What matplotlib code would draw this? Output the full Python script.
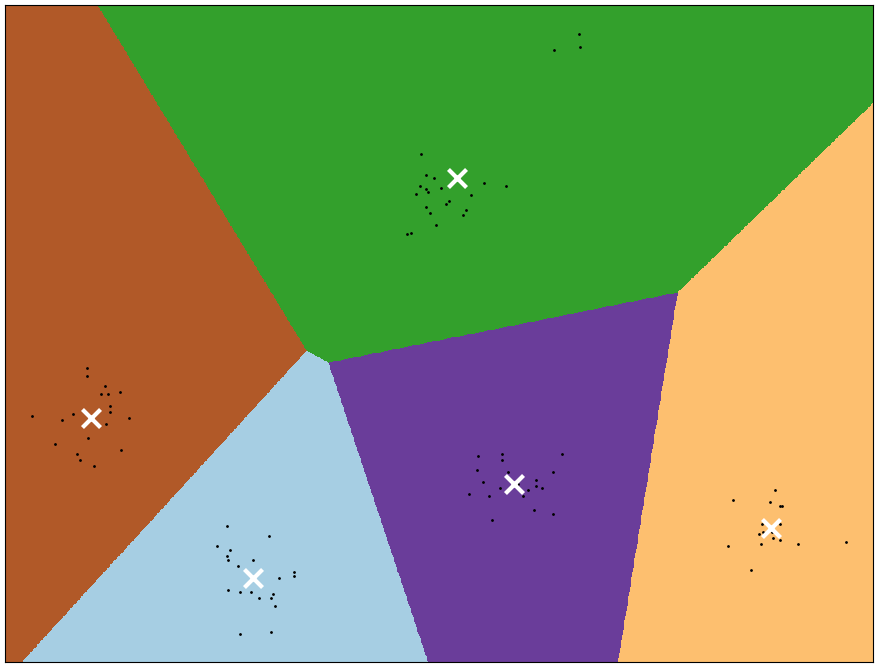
import numpy as np
import matplotlib
matplotlib.use("Agg")
import matplotlib.pyplot as plt

# cluster centres, in label order (0..4) so the Paired colormap picks the colours
centroids_x = [-4.83, 0.48, 8.64, 1.96, -9.04]
centroids_y = [-6.10, 3.88, -4.87, -3.75, -2.10]

# reduced data points
points_x = [
    # green
    -0.46, -0.33, -0.12, -0.49, -0.33, -0.28, -0.59, 0.06, 1.18, 1.73,
    0.84, 0.27, 0.19, -0.35, 0.69, 0.63, -0.23, -0.09, -0.82, -0.72,
    3.65, 3.67, 3.00,
    # brown
    -9.14, -9.14, -8.67, -8.78, -8.60, -8.29, -8.55, -8.55, -10.58, -9.80,
    -9.51, -8.05, -8.65, -9.12, -9.97, -8.26, -9.40, -9.33, -8.96,
    # light blue
    -5.50, -4.41, -5.76, -5.43, -5.50, -5.48, -4.83, -5.22, -4.15, -3.76,
    -3.76, -5.48, -5.17, -4.88, -4.31, -4.67, -4.36, -4.25, -5.17, -4.36,
    # purple
    1.02, 1.64, 1.64, 3.20, 1.00, 1.80, 2.97, 1.15, 2.51, 2.53,
    2.68, 2.32, 1.59, 0.79, 1.31, 2.19, 2.06, 2.48, 2.97, 1.38,
    # orange
    8.72, 7.65, 8.59, 8.87, 8.92, 8.40, 8.85, 8.43, 8.33, 8.66,
    8.69, 8.87, 8.38, 9.34, 10.57, 7.50, 8.12,
]
points_y = [
    4.48, 3.96, 3.88, 3.68, 3.61, 3.53, 3.48, 3.63, 3.76, 3.68,
    3.46, 3.31, 3.23, 3.16, 3.08, 2.96, 3.01, 2.71, 2.48, 2.51,
    7.48, 7.16, 7.08,
    -0.85, -1.07, -1.30, -1.52, -1.50, -1.47, -1.82, -1.95, -2.07, -2.15,
    -2.02, -2.12, -2.27, -2.62, -2.75, -2.90, -3.02, -3.15, -3.30,
    -4.80, -5.05, -5.30, -5.42, -5.55, -5.67, -5.67, -5.80, -6.10, -5.97,
    -6.07, -6.40, -6.47, -6.47, -6.50, -6.60, -6.60, -6.80, -7.50, -7.45,
    -3.05, -3.02, -3.15, -3.00, -3.40, -3.45, -3.45, -3.70, -3.67, -3.82,
    -3.87, -3.92, -3.87, -4.02, -4.05, -4.05, -3.75, -4.42, -4.50, -4.67,
    -3.92, -4.15, -4.22, -4.32, -4.30, -4.77, -4.75, -4.95, -5.02, -4.97,
    -5.12, -5.17, -5.25, -5.27, -5.20, -5.32, -5.90,
]

x_min, x_max = -11.28, 11.28
y_min, y_max = -8.21, 8.21

# nearest-centre label over a mesh
h = 0.02
xx, yy = np.meshgrid(np.arange(x_min, x_max, h), np.arange(y_min, y_max, h))
cx = np.array(centroids_x)
cy = np.array(centroids_y)
d = (xx[..., None] - cx) ** 2 + (yy[..., None] - cy) ** 2
Z = np.argmin(d, axis=2)

fig = plt.figure(figsize=(8.79, 6.68), dpi=100)
ax = fig.add_axes([5 / 879, 6 / 668, 868 / 879, 657 / 668])
ax.imshow(Z, interpolation="nearest",
          extent=(xx.min(), xx.max(), yy.min(), yy.max()),
          cmap=plt.cm.Paired, aspect="auto", origin="lower")

ax.plot(points_x, points_y, "k.", markersize=2)
ax.scatter(centroids_x, centroids_y, marker="x", s=169, linewidths=3,
           color="w", zorder=10)

ax.set_xlim(x_min, x_max)
ax.set_ylim(y_min, y_max)
ax.set_xticks(())
ax.set_yticks(())

fig.savefig("out.png", dpi=100)
